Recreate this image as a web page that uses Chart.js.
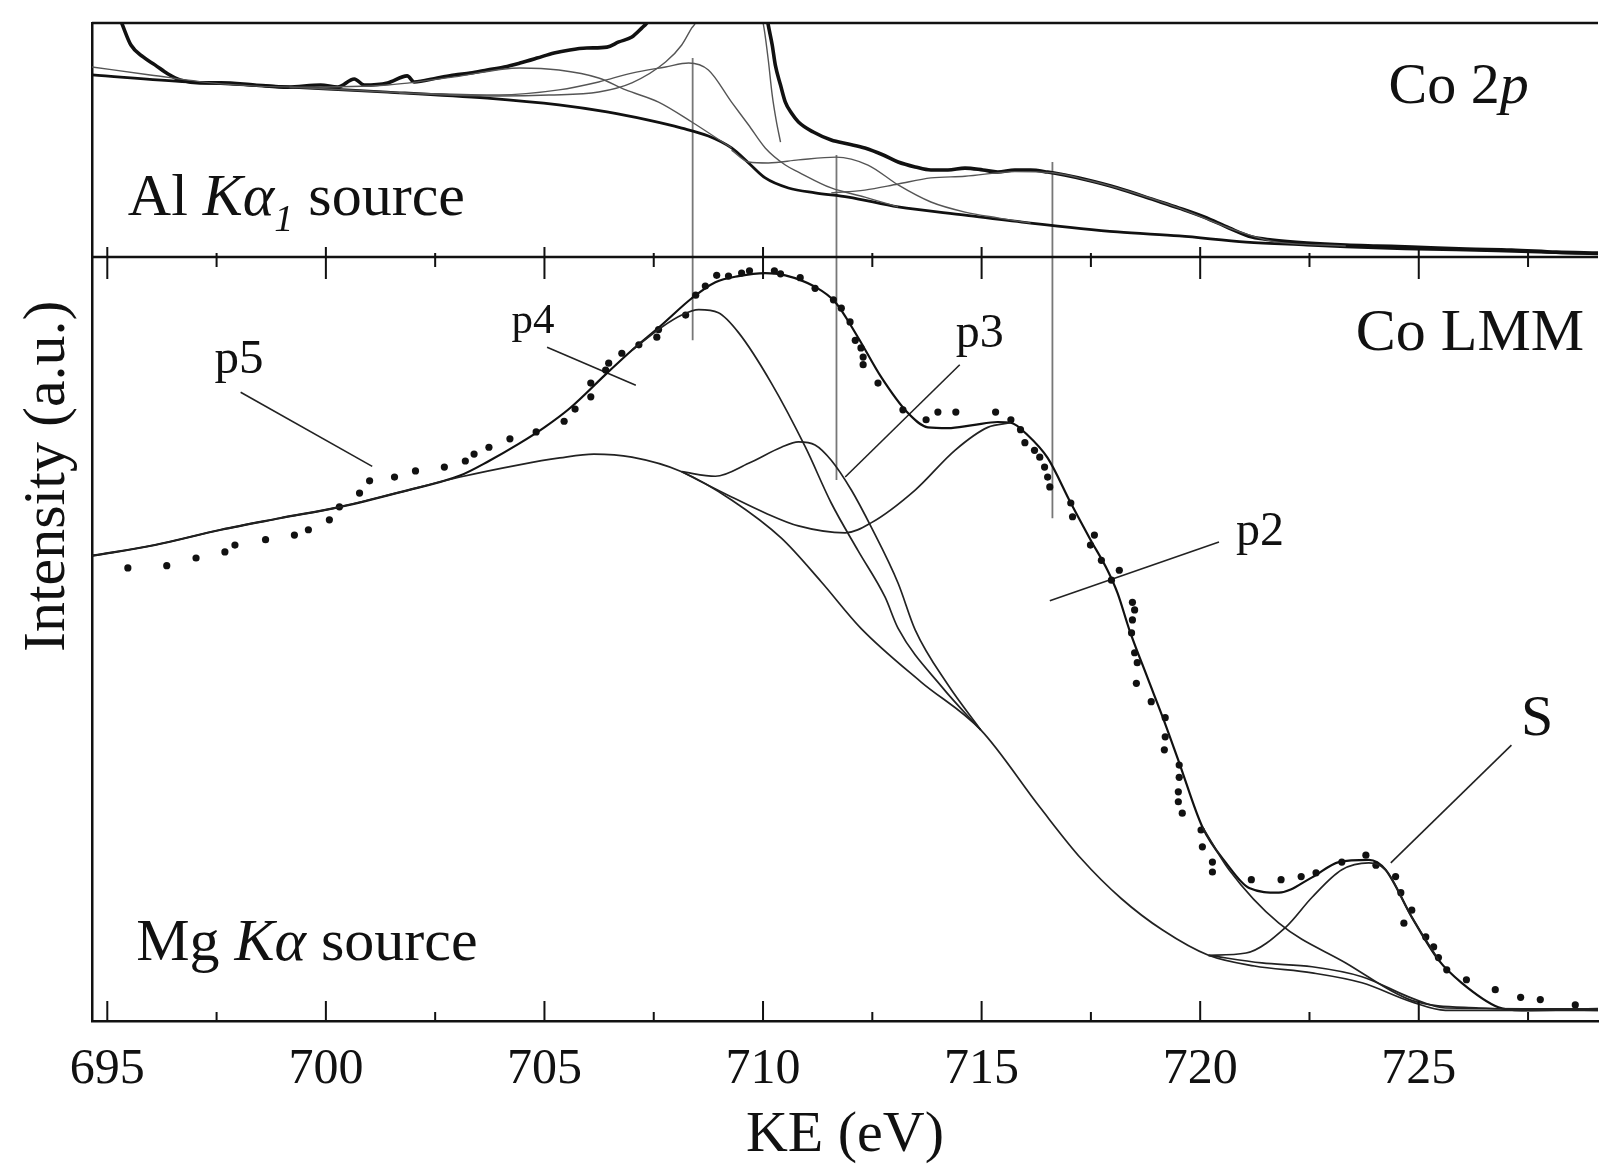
<!DOCTYPE html>
<html>
<head>
<meta charset="utf-8">
<title>Co 2p / Co LMM</title>
<script src="https://cdn.jsdelivr.net/npm/chart.js@4.4.1/dist/chart.umd.min.js"></script>
<style>
  html, body { margin: 0; padding: 0; background: #fff; }
  #wrap { width: 1602px; height: 1166px; }
</style>
</head>
<body>
<div id="wrap"><canvas id="spectra" width="1602" height="1166"></canvas></div>
<script>
// ---- Co LMM, Mg Ka source: [KE (eV), intensity (a.u.)] ----
const lmmDots = [
  [695.47,59.3],[696.36,59.6],[697.03,60.6],[697.69,61.4],[697.92,62.3],[698.62,63.0],[699.28,63.6],[699.60,64.3],
  [700.08,65.6],[700.31,67.3],[700.77,69.1],[701.00,70.7],[701.57,71.2],[702.05,72.0],[702.71,72.5],[703.19,73.3],
  [703.39,74.2],[703.73,75.1],[704.21,76.2],[704.81,77.1],[705.45,78.5],[705.70,80.1],[706.06,81.7],[706.06,83.5],
  [706.40,85.2],[706.47,86.1],[706.77,87.4],[707.16,88.5],[707.57,89.5],[707.61,90.5],[708.23,92.4],[708.46,95.0],
  [708.68,96.2],[708.94,97.6],[709.21,97.5],[709.51,97.9],[709.69,98.2],[710.26,98.2],[710.40,97.8],[710.85,97.3],
  [711.19,95.9],[711.61,94.4],[711.79,93.3],[711.99,91.5],[712.11,89.1],[712.24,88.1],[712.29,86.9],[712.29,85.9],
  [712.63,83.5],[713.20,80.0],[713.73,78.7],[714.00,79.7],[714.41,79.7],[715.32,79.7],[715.67,78.7],[715.89,77.4],
  [715.99,75.7],[716.21,74.7],[716.33,73.8],[716.44,72.5],[716.51,71.2],[716.56,69.9],[717.04,67.8],[717.08,66.0],
  [717.58,63.6],[717.49,62.3],[717.74,60.3],[718.15,59.0],[717.97,57.7],[718.45,54.8],[718.50,53.8],[718.45,52.5],
  [718.43,50.8],[718.50,48.2],[718.56,46.9],[718.54,44.2],[718.88,41.8],[719.20,39.7],[719.20,37.2],[719.18,35.5],
  [719.52,33.5],[719.52,31.9],[719.50,30.0],[719.50,28.7],[719.59,27.2],[720.02,25.0],[720.05,22.8],[720.28,20.8],
  [720.28,19.5],[721.17,18.5],[721.85,18.5],[722.31,18.9],[722.65,19.4],[723.24,20.8],[723.79,21.7],[724.02,20.4],
  [724.47,18.9],[724.59,16.8],[724.84,14.5],[724.66,12.8],[725.16,11.0],[725.34,9.7],[725.45,8.3],[725.64,6.7],
  [726.09,5.4],[726.75,4.1],[727.33,3.1],[727.78,2.8],[728.58,2.1]
];
const lmmEnvelope = [
  [694.65,60.9],[696.09,62.3],[697.60,64.3],[698.94,65.8],[700.33,67.3],[701.68,69.2],[703.07,71.4],[703.73,73.3],
  [704.40,75.5],[705.00,77.7],[705.58,80.2],[706.43,84.8],[707.00,87.8],[707.68,91.1],[708.37,94.6],[708.91,96.7],
  [709.44,97.5],[710.05,97.9],[710.51,97.6],[711.19,96.1],[711.65,94.1],[712.17,89.5],[712.70,84.3],[713.31,79.6],
  [713.77,77.7],[714.23,77.6],[714.80,78.0],[715.37,78.4],[715.67,78.3],[716.05,76.7],[716.51,73.7],[717.04,67.8],
  [717.49,63.0],[717.88,59.0],[718.11,56.0],[718.38,51.2],[718.79,45.0],[719.14,39.8],[719.52,33.8],[720.05,25.4],
  [720.59,20.7],[721.12,17.4],[721.80,16.8],[722.56,18.8],[723.17,20.8],[723.86,21.1],[724.24,19.8],[724.84,13.6],
  [725.45,8.0],[725.98,5.0],[726.82,1.8],[727.35,1.4],[729.10,1.6]
];
// background with the broad p5 component on top of it
const lmmP5 = [
  [694.65,60.9],[696.09,62.3],[697.60,64.3],[698.94,65.8],[700.33,67.3],[701.68,69.2],[703.07,71.2],[704.42,72.8],
  [705.35,73.7],[706.13,74.2],[707.00,73.8],[708.14,71.9],[709.28,68.2],[710.42,63.2],[711.33,57.5],[712.24,51.4],
  [713.61,44.4],[714.98,38.1],[716.33,28.0],[717.27,21.3],[718.20,16.0],[719.14,11.9],[720.19,8.6],[721.24,7.2],
  [722.56,6.3],[723.70,5.0],[724.84,2.5],[725.61,1.4],[729.10,1.4]
];
const lmmP4 = [
  [707.00,87.8],[707.68,90.8],[708.14,92.4],[708.53,93.1],[708.98,92.7],[709.44,90.1],[710.19,83.5],[710.97,75.1],
  [711.56,67.8],[712.17,61.6],[712.79,55.5],[713.09,51.4],[714.11,43.6],[714.98,38.1]
];
const lmmP3 = [
  [708.14,71.9],[708.91,71.3],[709.67,73.0],[710.42,75.1],[710.81,75.8],[711.19,75.4],[711.56,73.4],[712.02,69.5],
  [712.47,64.7],[713.09,57.3],[713.48,51.2],[714.23,44.0],[714.98,38.1]
];
const lmmP2 = [
  [708.14,71.9],[709.28,68.6],[710.05,66.5],[710.81,64.8],[711.88,63.9],[712.47,65.2],[713.48,69.5],[714.39,74.7],
  [715.14,77.7],[715.67,78.3]
];
const lmmP2Tail = [
  [720.05,25.4],[720.66,19.8],[721.80,12.8],[723.33,7.6],[724.84,2.7],[726.37,1.7],[729.10,1.4]
];
const lmmP1 = [
  [720.19,8.6],[721.41,7.6],[722.56,7.1],[723.70,5.8],[724.84,3.0],[725.61,1.7],[729.10,1.6]
];
const lmmS = [
  [720.19,8.6],[721.05,8.9],[721.96,12.3],[722.56,16.2],[723.24,19.8],[723.86,20.7],[724.24,19.8],[724.84,13.6],
  [725.45,8.0]
];

// ---- Co 2p, Al Ka1 source ----
const co2pData = [
  [695.20,105.6],[695.32,100.4],[695.54,90.6],[695.82,85.5],[696.09,82.1],[696.39,78.2],[696.68,75.6],[697.12,74.4],
  [697.60,74.4],[698.37,73.5],[699.13,72.6],[699.88,73.5],[700.27,72.6],[700.65,76.1],[700.88,73.5],[701.41,74.4],
  [701.86,77.4],[702.02,74.8],[702.55,76.5],[702.94,77.8],[703.30,78.6],[703.69,79.9],[704.08,81.2],[704.44,82.9],
  [704.83,85.0],[705.22,87.2],[705.58,88.5],[705.97,89.3],[706.43,89.7],[706.70,91.9],[707.00,94.0],[707.23,97.9],
  [707.34,100.0],[707.50,105.6],[708.90,400],[710.08,103.4],[710.12,99.1],[710.21,90.6],[710.28,82.1],[710.40,73.5],
  [710.51,66.2],[710.65,61.5],[710.81,57.7],[711.15,53.4],[711.56,50.0],[711.95,48.3],[712.33,46.6],[712.75,43.6],
  [713.09,40.6],[713.48,38.5],[713.84,37.2],[714.23,37.2],[714.62,38.0],[715.03,37.2],[715.37,36.3],[715.76,37.2],
  [716.12,37.2],[716.51,36.3],[716.90,35.0],[717.42,32.9],[718.11,29.5],[718.95,24.4],[719.52,20.9],[720.09,17.1],
  [720.66,12.4],[721.19,8.5],[721.64,7.3],[722.44,6.0],[723.33,5.1],[724.04,4.7],[724.84,4.3],[726.09,3.4],
  [727.12,3.0],[728.15,2.1],[729.10,1.7]
];
const co2pBackground = [
  [694.65,77.8],[696.84,74.8],[699.17,72.6],[701.41,70.5],[703.69,67.9],[705.33,65.0],[706.43,62.0],[707.38,58.5],
  [708.14,55.1],[708.75,51.7],[709.28,46.6],[709.67,40.2],[710.05,33.8],[710.58,29.5],[711.19,27.4],[711.95,25.6],
  [713.09,21.4],[714.62,17.9],[716.12,14.5],[718.11,10.7],[719.52,9.0],[721.05,6.4],[722.44,5.1],[723.33,4.3],
  [724.95,3.4],[726.78,2.6],[729.10,1.3]
];
const co2pMain = [
  [699.17,72.6],[701.41,70.5],[702.82,69.2],[703.96,68.8],[705.10,69.2],[706.24,70.5],[707.00,74.4],[707.77,83.3],
  [708.14,90.6],[708.37,97.9],[708.46,100.4],[708.53,105.6]
];
const co2pBroad = [
  [694.65,81.2],[695.98,77.8],[697.60,74.0],[699.40,72.6],[701.41,73.5],[702.94,77.0],[704.44,80.8],[705.33,79.9],
  [706.24,76.5],[706.86,71.4],[707.61,66.2],[708.37,57.7],[709.28,46.6]
];
const co2pSat1 = [
  [701.68,70.1],[703.96,69.2],[705.33,71.4],[706.24,74.8],[707.00,78.6],[707.77,81.2],[708.30,82.9],[708.75,79.9],
  [709.28,66.2],[709.67,56.4],[710.05,46.6],[710.51,39.3],[710.81,36.3],[711.56,29.5],[712.33,25.6],[713.09,21.4]
];
const co2pEdge = [
  [709.94,105.6],[710.03,97.0],[710.12,84.2],[710.21,69.2],[710.30,58.5],[710.40,49.1]
];
const co2pSat2 = [
  [709.28,45.7],[709.67,40.6],[710.12,40.2],[710.81,41.5],[711.67,42.7],[712.40,39.3],[713.09,30.8],[713.84,23.5],
  [714.62,19.2],[715.37,16.7],[716.12,14.5]
];
const co2pSat3 = [
  [711.56,27.4],[712.33,28.6],[713.09,31.2],[713.84,33.8],[714.62,34.5],[715.76,36.5],[716.62,36.0],[717.42,32.9],
  [718.11,29.5],[719.52,20.9],[720.66,12.4],[721.64,6.8],[723.33,4.7]
];

// peak positions shared by both spectra (KE), with line ends on each scale
const peakKE = [708.39, 711.68, 716.62];
const peakTop2p = [85.0, 43.6, 40.6];
const peakTopLmm = [89.1, 70.8, 65.8];

// leader lines from the peak labels
const leaderP5 = [[698.05,82.3],[701.06,72.6]];
const leaderP4 = [[705.06,88.2],[707.09,83.2]];
const leaderP3 = [[714.50,85.9],[711.88,71.2]];
const leaderP2 = [[720.43,62.7],[716.56,55.0]];
const leaderS = [[727.12,36.1],[724.36,20.7]];

const majorTicks = [695, 700, 705, 710, 715, 720, 725];
const minorTicks = [697.5, 702.5, 707.5, 712.5, 717.5, 722.5, 727.5];

const serif = '"Liberation Serif", "Times New Roman", serif';
const ink = '#111';

const annotations = [
  { axis: 'y2', x: 724.31, y: 65.8, align: 'left', runs: [['Co 2', 58], ['p', 58, 'italic']] },
  { axis: 'y2', x: 695.47, y: 17.9, align: 'left', runs: [['Al ', 60], ['K\u03b1', 60, 'italic'], ['1', 38, 'italic', 16], [' source', 60]] },
  { axis: 'y', x: 723.56, y: 87.8, align: 'left', runs: [['Co LMM', 60]] },
  { axis: 'y', x: 695.66, y: 8.0, align: 'left', runs: [['Mg ', 60], ['K\u03b1', 60, 'italic'], [' source', 60]] },
  { axis: 'y', x: 698.01, y: 84.8, align: 'center', runs: [['p5', 49]] },
  { axis: 'y', x: 704.74, y: 90.1, align: 'center', runs: [['p4', 43]] },
  { axis: 'y', x: 714.96, y: 88.2, align: 'center', runs: [['p3', 48]] },
  { axis: 'y', x: 721.37, y: 62.3, align: 'center', runs: [['p2', 48]] },
  { axis: 'y', x: 727.71, y: 37.4, align: 'center', runs: [['S', 58]] }
];

const pts = arr => arr.map(([x, y]) => ({ x, y }));

function curve(data, axis, width, color) {
  return {
    type: 'line', data: pts(data), yAxisID: axis,
    borderColor: color, borderWidth: width, pointRadius: 0,
    fill: false, cubicInterpolationMode: 'monotone'
  };
}
function straight(data, axis, width, color) {
  return {
    type: 'line', data: pts(data), yAxisID: axis,
    borderColor: color, borderWidth: width, pointRadius: 0, fill: false, tension: 0
  };
}

const datasets = [
  // Co 2p panel
  curve(co2pBroad, 'y2', 1.4, '#555'),
  curve(co2pMain, 'y2', 1.4, '#555'),
  curve(co2pSat1, 'y2', 1.4, '#555'),
  curve(co2pEdge, 'y2', 1.4, '#555'),
  curve(co2pSat2, 'y2', 1.4, '#555'),
  curve(co2pSat3, 'y2', 1.4, '#555'),
  curve(co2pBackground, 'y2', 2.8, ink),
  curve(co2pData, 'y2', 3.6, ink),
  // Co LMM panel
  curve(lmmP5, 'y', 1.7, '#222'),
  curve(lmmP4, 'y', 1.7, '#222'),
  curve(lmmP3, 'y', 1.7, '#222'),
  curve(lmmP2, 'y', 1.7, '#222'),
  curve(lmmP2Tail, 'y', 1.7, '#222'),
  curve(lmmP1, 'y', 1.7, '#222'),
  curve(lmmS, 'y', 1.7, '#222'),
  curve(lmmEnvelope, 'y', 2.2, ink),
  {
    type: 'scatter', data: pts(lmmDots), yAxisID: 'y',
    pointRadius: 3.6, pointBackgroundColor: ink, pointBorderWidth: 0
  }
];
[leaderP5, leaderP4, leaderP3, leaderP2, leaderS].forEach(l => datasets.push(straight(l, 'y', 1.6, '#222')));
peakKE.forEach((ke, i) => {
  datasets.push(straight([[ke, peakTop2p[i]], [ke, 0]], 'y2', 1.8, '#777'));
  datasets.push(straight([[ke, 100], [ke, peakTopLmm[i]]], 'y', 1.8, '#777'));
});

// frame lines, inward tick marks and the text labels inside the panels
const decor = {
  id: 'decor',
  afterDatasetsDraw(chart) {
    const { ctx, chartArea: area, scales: { x, y, y2 } } = chart;
    ctx.save();
    ctx.strokeStyle = ink;
    ctx.lineWidth = 2.5;
    ctx.beginPath();
    ctx.moveTo(area.left, y2.top); ctx.lineTo(area.right, y2.top);
    ctx.moveTo(area.left, y.top); ctx.lineTo(area.right, y.top);
    ctx.stroke();

    ctx.lineWidth = 2;
    ctx.beginPath();
    const mark = (v, base, len) => {
      const px = x.getPixelForValue(v);
      ctx.moveTo(px, base); ctx.lineTo(px, base + len);
    };
    majorTicks.forEach(v => { mark(v, y.bottom, -20); mark(v, y.top, 22); mark(v, y.top, -10); });
    minorTicks.forEach(v => { mark(v, y.bottom, -9); mark(v, y.top, 10); mark(v, y.top, -4); });
    ctx.stroke();

    ctx.fillStyle = ink;
    ctx.textBaseline = 'alphabetic';
    ctx.textAlign = 'left';
    annotations.forEach(a => {
      const scale = chart.scales[a.axis];
      const fonts = a.runs.map(r => `${r[2] || 'normal'} ${r[1]}px ${serif}`);
      const widths = a.runs.map((r, i) => { ctx.font = fonts[i]; return ctx.measureText(r[0]).width; });
      const total = widths.reduce((s, w) => s + w, 0);
      let cx = x.getPixelForValue(a.x) - (a.align === 'center' ? total / 2 : 0);
      const by = scale.getPixelForValue(a.y);
      a.runs.forEach((r, i) => {
        ctx.font = fonts[i];
        ctx.fillText(r[0], cx, by + (r[3] || 0));
        cx += widths[i];
      });
    });

    // shared intensity title, rotated
    ctx.translate(64, y.getPixelForValue(71.3));
    ctx.rotate(-Math.PI / 2);
    ctx.textAlign = 'center';
    ctx.font = `60px ${serif}`;
    ctx.fillText('Intensity (a.u.)', 0, 0);
    ctx.restore();
  }
};

const panelAxis = weight => ({
  type: 'linear', position: 'left', stack: 'panels', stackWeight: weight,
  min: 0, max: 100,
  afterFit: s => { s.width = 92; },
  grid: { display: false, drawTicks: false },
  ticks: { display: false },
  border: { display: true, color: ink, width: 2.5 }
});

new Chart(document.getElementById('spectra'), {
  type: 'scatter',
  data: { datasets },
  options: {
    responsive: false,
    animation: false,
    devicePixelRatio: 1,
    layout: { padding: { top: 23, left: 0, right: 0, bottom: 0 } },
    plugins: { legend: { display: false }, tooltip: { enabled: false } },
    scales: {
      x: {
        type: 'linear', position: 'bottom', min: 694.65, max: 729.1,
        afterBuildTicks: s => { s.ticks = majorTicks.map(v => ({ value: v })); },
        afterFit: s => { s.height = 145; },
        grid: { display: false, drawTicks: false },
        border: { display: true, color: ink, width: 2.5 },
        ticks: {
          color: ink, padding: 24, maxRotation: 0, autoSkip: false,
          font: { family: serif, size: 50, lineHeight: 1 },
          callback: v => String(v)
        },
        title: {
          display: true, text: 'KE (eV)', color: ink,
          font: { family: serif, size: 58, lineHeight: 1 },
          padding: { top: 0, bottom: 1 }
        }
      },
      y: panelAxis(764),
      y2: panelAxis(234)
    }
  },
  plugins: [decor]
});
</script>
</body>
</html>
